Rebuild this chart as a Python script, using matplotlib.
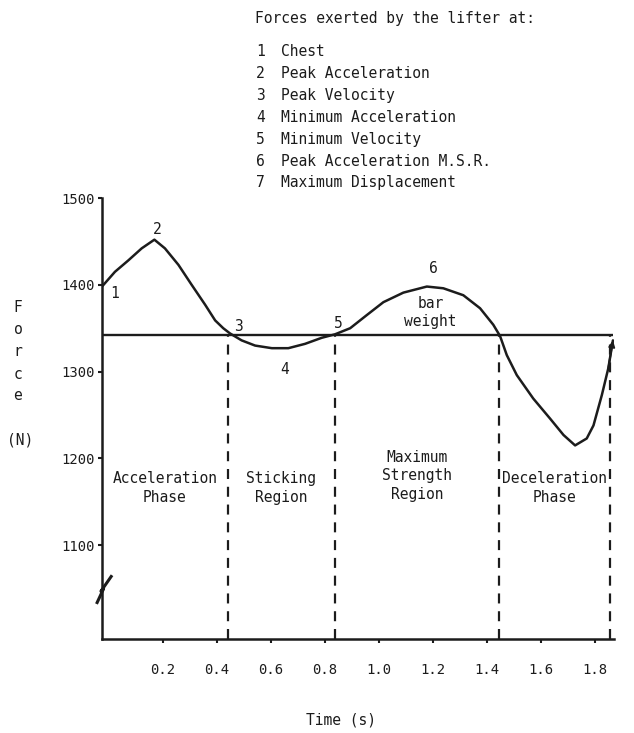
import matplotlib
matplotlib.use("Agg")
import matplotlib.pyplot as plt

plt.rcParams['font.family'] = ['DejaVu Sans Mono']

# force curve (time in s, force in N)
time_s = [-0.026, 0.022, 0.071, 0.121, 0.168, 0.207, 0.257, 0.306, 0.356, 0.393,
          0.423, 0.448, 0.491, 0.541, 0.603, 0.664, 0.726, 0.788, 0.837, 0.893,
          0.954, 1.016, 1.090, 1.177, 1.238, 1.312, 1.374, 1.423, 1.448, 1.473,
          1.510, 1.571, 1.633, 1.683, 1.726, 1.769, 1.794, 1.825, 1.849, 1.866]
force_n = [1398, 1415, 1428, 1442, 1452, 1442, 1423, 1400, 1377, 1359,
           1350, 1344, 1336, 1330, 1327, 1327, 1332, 1339, 1343, 1350,
           1365, 1380, 1391, 1398, 1396, 1388, 1373, 1354, 1341, 1319,
           1296, 1269, 1246, 1227, 1215, 1223, 1238, 1273, 1304, 1336]

bar_weight = 1342
phase_bounds = [0.44, 0.835, 1.445, 1.855]
phase_names = ["Acceleration\nPhase", "Sticking\nRegion",
               "Maximum\nStrength\nRegion", "Deceleration\nPhase"]

# numbered events on the curve
event_t = [-0.026, 0.168, 0.448, 0.64, 0.837, 1.18]
event_f = [1398, 1452, 1344, 1327, 1343, 1398]
event_offsets = [(9, -5), (2, 7), (6, 5), (2, -15), (2, 8), (4, 13)]

legend_title = "Forces exerted by the lifter at:"
legend_items = ["Chest", "Peak Acceleration", "Peak Velocity",
                "Minimum Acceleration", "Minimum Velocity",
                "Peak Acceleration M.S.R.", "Maximum Displacement"]

yticks = [1100, 1200, 1300, 1400, 1500]
xticks = [0.2, 0.4, 0.6, 0.8, 1.0, 1.2, 1.4, 1.6, 1.8]

W, H = 634, 733
ink = "#1c1c1c"


def px(x, y):
    return x / W, 1 - y / H


fig = plt.figure(figsize=(W / 100, H / 100), dpi=100)
fig.patch.set_facecolor("white")
ax = fig.add_axes([102 / W, 1 - 639 / H, (614 - 102) / W, (639 - 198) / H])
ax.set_xlim(-0.026, 1.87)
ax.set_ylim(992, 1500)

ax.plot(time_s, force_n, color=ink, lw=1.8, solid_capstyle="round",
        solid_joinstyle="round")
ax.annotate("", xy=(time_s[-1], force_n[-1]), xytext=(time_s[-2], force_n[-2]),
            arrowprops=dict(arrowstyle="-|>", color=ink, lw=1.4,
                            mutation_scale=9, shrinkA=0, shrinkB=0))
ax.hlines(bar_weight, ax.get_xlim()[0], time_s[-1], color=ink, lw=1.7)
ax.vlines(phase_bounds, ax.get_ylim()[0], bar_weight, color=ink, lw=1.6,
          linestyles=(0, (4.5, 3.5)))

for k, (t, f, off) in enumerate(zip(event_t, event_f, event_offsets)):
    ax.annotate(str(k + 1), (t, f), xytext=off, textcoords="offset points",
                ha="center", va="center", fontsize=10.5, color=ink)

ax.text(1.19, 1368, "bar\nweight", ha="center", va="center",
        fontsize=10.5, color=ink, linespacing=1.25)

left_edges = [ax.get_xlim()[0]] + phase_bounds[:-1]
for a, b, name in zip(left_edges, phase_bounds, phase_names):
    yc = 1180 if name.count("\n") == 2 else 1166
    ax.text((a + b) / 2, yc, name, ha="center", va="center",
            fontsize=10.5, color=ink, linespacing=1.3)

# axis break mark
ax.plot([-0.044, -0.02, -0.03, 0.008], [1034, 1050, 1047, 1064], color=ink,
        lw=2.2, clip_on=False)

for s in ["top", "right"]:
    ax.spines[s].set_visible(False)
for s in ["left", "bottom"]:
    ax.spines[s].set_linewidth(1.8)
    ax.spines[s].set_color(ink)

ax.set_yticks(yticks)
ax.set_xticks(xticks)
ax.set_xticklabels([f"{v:.1f}" for v in xticks])
ax.tick_params(axis="both", direction="out", length=3, width=1.5, colors=ink,
               labelsize=10)
ax.tick_params(axis="x", pad=14)
ax.tick_params(axis="y", pad=2)

fig.text(*px(341, 720), "Time (s)", ha="center", va="center", fontsize=10.5, color=ink)
for i, ch in enumerate("Force"):
    fig.text(*px(18, 308 + 22 * i), ch, ha="center", va="center", fontsize=10.5, color=ink)
fig.text(*px(20, 440), "(N)", ha="center", va="center", fontsize=10.5, color=ink)

fig.text(*px(255, 18), legend_title, ha="left", va="center", fontsize=10.5, color=ink)
for i, item in enumerate(legend_items):
    y = 52 + 21.8 * i
    fig.text(*px(256, y), str(i + 1), ha="left", va="center", fontsize=10.5, color=ink)
    fig.text(*px(281, y), item, ha="left", va="center", fontsize=10.5, color=ink)

fig.savefig("out.png", dpi=100, facecolor="white")
